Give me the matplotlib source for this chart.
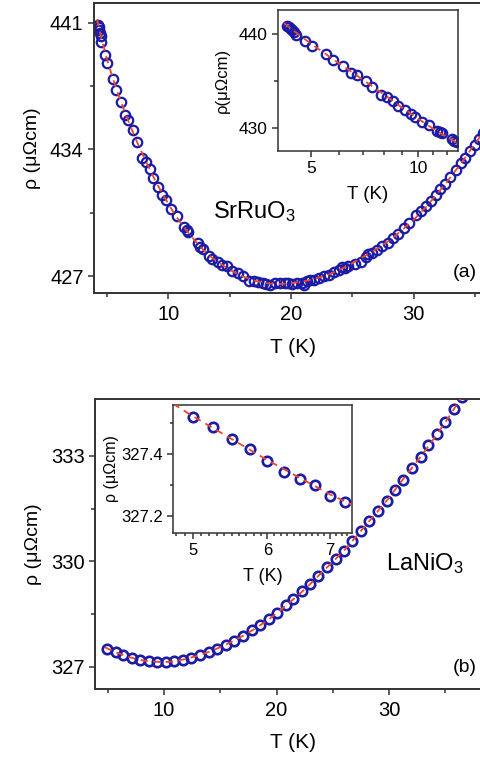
import numpy as np
import matplotlib
matplotlib.use("Agg")
import matplotlib.pyplot as plt
from matplotlib.ticker import FixedLocator, NullFormatter, FormatStrFormatter

plt.rcParams['font.family'] = ['Liberation Sans', 'DejaVu Sans']
plt.rcParams['mathtext.default'] = 'regular'

# SrRuO3 data, T (K) and rho (uOhm cm)
T_a = [4.28, 4.33, 4.38, 4.42, 4.48, 4.55, 4.82, 5.04, 5.50, 5.78, 6.13, 6.46,
       6.73, 7.14, 7.42, 7.87, 8.18, 8.50, 8.77, 9.18, 9.51, 9.81, 10.22, 10.69,
       11.28, 11.50, 11.64, 12.40, 12.60, 12.86, 13.33, 13.60, 14.04, 14.40,
       14.77, 15.20, 15.72, 16.10, 16.62, 17.00, 17.36, 17.70, 18.00, 18.30,
       18.70, 19.10, 19.50, 19.80, 20.10, 20.50, 20.90, 21.10, 21.30, 21.60,
       21.90, 22.26, 22.70, 23.10, 23.50, 23.90, 24.20, 24.40, 24.70, 25.20,
       25.70, 26.10, 26.30, 26.60, 27.00, 27.45, 27.90, 28.30, 28.70, 29.20,
       29.60, 30.20, 30.60, 31.00, 31.40, 31.80, 32.20, 32.60, 33.00, 33.45,
       33.85, 34.20, 34.60, 35.00, 35.35, 35.70, 36.10]
rho_a = [440.9, 440.75, 440.6, 440.45, 440.25, 439.95, 439.25, 438.8, 437.9,
         437.3, 436.6, 435.9, 435.65, 435.05, 434.4, 433.55, 433.3, 432.9,
         432.4, 431.9, 431.5, 431.2, 430.7, 430.3, 429.7, 429.55, 429.45,
         428.8, 428.6, 428.5, 428.1, 427.95, 427.75, 427.6, 427.55, 427.3,
         427.15, 427.0, 426.75, 426.7, 426.65, 426.6, 426.55, 426.5, 426.6,
         426.6, 426.6, 426.6, 426.55, 426.6, 426.6, 426.5, 426.7, 426.8,
         426.8, 426.9, 427.0, 427.05, 427.2, 427.35, 427.5, 427.45, 427.55,
         427.65, 427.8, 428.05, 428.2, 428.3, 428.45, 428.65, 428.85, 429.1,
         429.3, 429.65, 429.95, 430.35, 430.6, 430.85, 431.15, 431.5, 431.8,
         432.1, 432.45, 432.85, 433.25, 433.55, 433.9, 434.25, 434.6, 434.9,
         435.3]
# fit curve
T_fit_a = [4.2, 4.5, 5.0, 5.5, 6.0, 6.5, 7.0, 7.5, 8.0, 8.5, 9.0, 9.5, 10.0,
           10.5, 11.0, 11.5, 12.0, 12.5, 13.0, 13.5, 14.0, 15.0, 16.0, 17.0,
           18.0, 19.0, 20.0, 21.0, 22.0, 23.0, 24.0, 25.0, 26.0, 27.0, 28.0,
           29.0, 30.0, 31.0, 32.0, 33.0, 34.0, 35.0, 36.0, 36.5]
rho_fit_a = [441.2, 440.3, 439.0, 437.9, 436.9, 436.0, 435.15, 434.35, 433.6,
             432.9, 432.2, 431.6, 431.0, 430.45, 429.95, 429.5, 429.1, 428.7,
             428.35, 428.05, 427.8, 427.35, 427.0, 426.75, 426.6, 426.55,
             426.6, 426.7, 426.85, 427.05, 427.35, 427.7, 428.1, 428.5, 428.95,
             429.5, 430.1, 430.8, 431.6, 432.45, 433.35, 434.3, 435.25, 435.7]

# LaNiO3 data
T_b = [4.9, 5.7, 6.4, 7.2, 7.9, 8.7, 9.4, 10.2, 10.9, 11.7, 12.4, 13.2, 14.0,
       14.7, 15.5, 16.2, 17.0, 17.8, 18.5, 19.3, 20.0, 20.8, 21.5, 22.3, 23.0,
       23.7, 24.5, 25.3, 26.0, 26.7, 27.5, 28.2, 29.0, 29.8, 30.5, 31.2, 32.0,
       32.8, 33.5, 34.3, 35.0, 35.8, 36.5]
rho_b = [327.52, 327.43, 327.33, 327.26, 327.19, 327.16, 327.14, 327.14,
         327.16, 327.21, 327.26, 327.33, 327.43, 327.52, 327.63, 327.74,
         327.88, 328.04, 328.18, 328.35, 328.54, 328.75, 328.92, 329.15,
         329.37, 329.59, 329.84, 330.08, 330.31, 330.58, 330.86, 331.14,
         331.43, 331.73, 332.02, 332.33, 332.65, 332.97, 333.30, 333.63,
         333.96, 334.34, 334.67]
T_fit_b = [4.76, 5, 6, 7, 8, 9, 10, 11, 12, 13, 14, 15, 16, 17, 18, 19, 20, 21,
           22, 23, 24, 25, 26, 27, 28, 29, 30, 31, 32, 33, 34, 35, 36, 37]
rho_fit_b = [327.56, 327.52, 327.38, 327.27, 327.19, 327.15, 327.135, 327.16,
             327.23, 327.32, 327.43, 327.56, 327.71, 327.88, 328.07, 328.28,
             328.52, 328.79, 329.06, 329.36, 329.68, 329.99, 330.31, 330.68,
             331.06, 331.43, 331.81, 332.24, 332.65, 333.06, 333.5, 333.96,
             334.45, 334.95]
# LaNiO3 inset (denser low-T points)
T_bi = [5.0, 5.25, 5.5, 5.75, 6.0, 6.25, 6.5, 6.75, 7.0, 7.25]
rho_bi = [327.519, 327.485, 327.446, 327.416, 327.376, 327.343, 327.320,
          327.301, 327.265, 327.245]

blue = '#1b1ba6'
red = '#f0452a'
spine_col = '#333333'

fig = plt.figure(figsize=(4.81, 7.64), dpi=100)
W, H = 481.0, 764.0


def box(x0, y0, x1, y1):
    # pixel box (top-left origin) -> figure fraction
    return [x0 / W, 1 - y1 / H, (x1 - x0) / W, (y1 - y0) / H]


def style(ax, size, lw=1.4):
    for s in ax.spines.values():
        s.set_linewidth(lw)
        s.set_color(spine_col)
    ax.tick_params(which='both', direction='out', top=False, right=False,
                   color=spine_col, labelsize=size, width=1.1)
    ax.tick_params(which='major', length=4.5, pad=3)
    ax.tick_params(which='minor', length=3)


def circles(ax, x, y, mew=1.6):
    ax.plot(x, y, 'o', ms=6.8, mfc='none', mec=blue, mew=mew, zorder=2)


def fitline(ax, x, y):
    ax.plot(x, y, '--', color=red, lw=1.3, dashes=(4, 3), zorder=3)


# ---- panel (a) ----
ax1 = fig.add_axes(box(94, 3, 492, 293))
circles(ax1, T_a, rho_a)
fitline(ax1, T_fit_a, rho_fit_a)
ax1.set_xlim(3.95, 36.4)
ax1.set_ylim(426.06, 442.1)
ax1.xaxis.set_major_locator(FixedLocator([10, 20, 30]))
ax1.xaxis.set_minor_locator(FixedLocator([5, 15, 25, 35]))
ax1.yaxis.set_major_locator(FixedLocator([427, 434, 441]))
ax1.yaxis.set_minor_locator(FixedLocator([430.5, 437.5]))
style(ax1, 14.5)
ax1.tick_params(axis='x', pad=4)
ax1.set_xlabel('T (K)', fontsize=15, labelpad=10)
ax1.set_ylabel('ρ (μΩcm)', fontsize=14, labelpad=6)
ax1.text(0.404, 0.257, 'SrRuO$_3$', transform=ax1.transAxes, fontsize=17,
         ha='center', va='baseline')
ax1.text(0.962, 0.056, '(a)', transform=ax1.transAxes, fontsize=14,
         ha='right', va='baseline')

ins1 = fig.add_axes(box(277.7, 10, 457.7, 150.7))
circles(ins1, [t for t in T_a if t < 13], [r for t, r in zip(T_a, rho_a) if t < 13])
fitline(ins1, T_fit_a[:19], rho_fit_a[:19])
ins1.set_xscale('log')
ins1.set_xlim(4.03, 12.9)
ins1.set_ylim(427.6, 442.6)
ins1.xaxis.set_major_locator(FixedLocator([5, 10]))
ins1.xaxis.set_major_formatter(FormatStrFormatter('%d'))
ins1.xaxis.set_minor_locator(FixedLocator([6, 7, 8, 9, 11, 12]))
ins1.xaxis.set_minor_formatter(NullFormatter())
ins1.yaxis.set_major_locator(FixedLocator([430, 440]))
ins1.yaxis.set_minor_locator(FixedLocator([435]))
style(ins1, 12.5, lw=1.1)
ins1.set_xlabel('T (K)', fontsize=13.5, labelpad=7)
ins1.set_ylabel('ρ(μΩcm)', fontsize=12, labelpad=6)

# ---- panel (b) ----
ax2 = fig.add_axes(box(95, 398.7, 492, 688.7))
circles(ax2, T_b, rho_b, mew=1.9)
fitline(ax2, T_fit_b, rho_fit_b)
ax2.set_xlim(3.87, 39.15)
ax2.set_ylim(326.38, 334.63)
ax2.xaxis.set_major_locator(FixedLocator([10, 20, 30]))
ax2.xaxis.set_minor_locator(FixedLocator([5, 15, 25, 35]))
ax2.yaxis.set_major_locator(FixedLocator([327, 330, 333]))
ax2.yaxis.set_minor_locator(FixedLocator([328.5, 331.5]))
style(ax2, 14.5)
ax2.tick_params(axis='x', pad=4)
ax2.set_xlabel('T (K)', fontsize=15, labelpad=10)
ax2.set_ylabel('ρ (μΩcm)', fontsize=14, labelpad=6)
ax2.text(0.831, 0.408, 'LaNiO$_3$', transform=ax2.transAxes, fontsize=17,
         ha='center', va='baseline')
ax2.text(0.962, 0.058, '(b)', transform=ax2.transAxes, fontsize=14,
         ha='right', va='baseline')

ins2 = fig.add_axes(box(173, 404.7, 352.3, 532.7))
circles(ins2, T_bi, rho_bi, mew=1.9)
fitline(ins2, T_fit_b[:5], rho_fit_b[:5])
ins2.set_xscale('log')
ins2.set_xlim(4.76, 7.39)
ins2.set_ylim(327.148, 327.557)
ins2.xaxis.set_major_locator(FixedLocator([5, 6, 7]))
ins2.xaxis.set_major_formatter(FormatStrFormatter('%d'))
ins2.xaxis.set_minor_locator(FixedLocator([4.8, 4.9, 5.1, 5.2, 5.3, 5.4, 5.5,
                                           5.6, 5.7, 5.8, 5.9, 6.1, 6.2, 6.3,
                                           6.4, 6.5, 6.6, 6.7, 6.8, 6.9, 7.1,
                                           7.2, 7.3]))
ins2.xaxis.set_minor_formatter(NullFormatter())
ins2.yaxis.set_major_locator(FixedLocator([327.2, 327.4]))
ins2.yaxis.set_major_formatter(FormatStrFormatter('%.1f'))
ins2.yaxis.set_minor_locator(FixedLocator([327.3, 327.5]))
style(ins2, 12, lw=1.1)
ins2.tick_params(which='minor', length=2)
ins2.set_xlabel('T (K)', fontsize=13, labelpad=7)
ins2.set_ylabel('ρ (μΩcm)', fontsize=11.5, labelpad=1)

fig.savefig('out.png', dpi=100)
